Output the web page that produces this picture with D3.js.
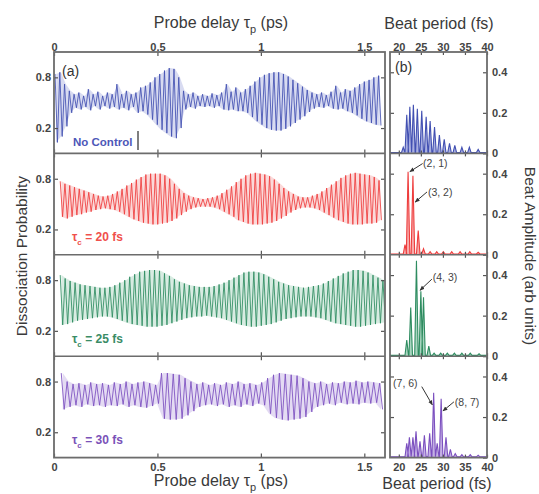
<!DOCTYPE html>
<html>
<head>
<meta charset="utf-8">
<title>Dissociation probability and beat spectra</title>
<script src="https://cdn.jsdelivr.net/npm/d3@7/dist/d3.min.js"></script>
<style>
  body { margin: 0; background: #fff; }
  svg { display: block; font-family: "Liberation Sans", Arial, sans-serif; }
  .tick text { font-size: 11px; font-weight: bold; fill: #444; }
  .tick line { stroke: #555; stroke-width: 1.2; }
</style>
</head>
<body>
<svg id="chart" width="539" height="494"></svg>
<script>
// tick values
const delayTicks = [0, 0.5, 1, 1.5];
const periodTicks = [20, 25, 30, 35, 40];
const probTicks = [0.2, 0.8];
const ampTicks = [0, 0.2, 0.4];

const panelNames = ["No Control", "20", "25", "30"];

// time of first crest and one beat cycle (ps)
const sampleStart = [0.005, 0.03, 0.03, 0.035];
const sampleStep = [0.023, 0.023, 0.024, 0.0285];

// crest / trough of each beat cycle, panel (a)
const noCtrlHi = [
  0.84, 0.86, 0.72, 0.64, 0.60, 0.62, 0.58, 0.66, 0.60, 0.63,
  0.58, 0.62, 0.60, 0.72, 0.60, 0.64, 0.60, 0.62, 0.68, 0.70,
  0.74, 0.80, 0.84, 0.88, 0.91, 0.90, 0.80, 0.64, 0.60, 0.62,
  0.58, 0.60, 0.58, 0.61, 0.59, 0.62, 0.72, 0.63, 0.68, 0.62,
  0.66, 0.70, 0.75, 0.80, 0.83, 0.85, 0.86, 0.86, 0.84, 0.81,
  0.77, 0.73, 0.69, 0.65, 0.62, 0.60, 0.62, 0.59, 0.63, 0.70,
  0.62, 0.66, 0.64, 0.68, 0.72, 0.75, 0.77, 0.80, 0.82];
const noCtrlLo = [
  0.03, 0.10, 0.22, 0.38, 0.44, 0.42, 0.45, 0.41, 0.46, 0.42,
  0.46, 0.43, 0.45, 0.42, 0.44, 0.41, 0.45, 0.38, 0.40, 0.36,
  0.30, 0.24, 0.18, 0.14, 0.10, 0.08, 0.20, 0.42, 0.45, 0.43,
  0.46, 0.45, 0.46, 0.44, 0.46, 0.42, 0.41, 0.42, 0.40, 0.40,
  0.38, 0.33, 0.28, 0.24, 0.20, 0.18, 0.17, 0.17, 0.19, 0.22,
  0.26, 0.30, 0.34, 0.39, 0.43, 0.45, 0.44, 0.46, 0.43, 0.42,
  0.43, 0.40, 0.38, 0.35, 0.31, 0.28, 0.26, 0.24, 0.23];

const tc20Hi = [
  0.77, 0.74, 0.72, 0.70, 0.68, 0.66, 0.64, 0.62, 0.60, 0.59,
  0.60, 0.62, 0.65, 0.68, 0.72, 0.75, 0.79, 0.82, 0.85, 0.86,
  0.86, 0.86, 0.84, 0.80, 0.74, 0.68, 0.63, 0.60, 0.58, 0.57,
  0.56, 0.57, 0.58, 0.60, 0.63, 0.67, 0.71, 0.76, 0.80, 0.84,
  0.86, 0.87, 0.86, 0.85, 0.83, 0.79, 0.74, 0.69, 0.65, 0.62,
  0.59, 0.58, 0.58, 0.60, 0.62, 0.65, 0.69, 0.73, 0.77, 0.81,
  0.84, 0.86, 0.87, 0.86, 0.85, 0.84, 0.82, 0.78];
const tc20Lo = [
  0.35, 0.33, 0.35, 0.37, 0.38, 0.40, 0.41, 0.43, 0.44, 0.45,
  0.44, 0.43, 0.41, 0.38, 0.35, 0.32, 0.30, 0.28, 0.27, 0.26,
  0.26, 0.27, 0.28, 0.30, 0.33, 0.37, 0.41, 0.44, 0.46, 0.47,
  0.47, 0.47, 0.46, 0.44, 0.41, 0.38, 0.35, 0.31, 0.29, 0.27,
  0.26, 0.26, 0.26, 0.27, 0.28, 0.30, 0.33, 0.36, 0.40, 0.43,
  0.45, 0.46, 0.46, 0.45, 0.43, 0.40, 0.37, 0.34, 0.31, 0.29,
  0.27, 0.26, 0.26, 0.26, 0.27, 0.27, 0.28, 0.31];

const tc25Hi = [
  0.86, 0.82, 0.79, 0.77, 0.75, 0.74, 0.73, 0.72, 0.71, 0.71,
  0.72, 0.74, 0.77, 0.80, 0.84, 0.87, 0.90, 0.91, 0.92, 0.92,
  0.91, 0.88, 0.85, 0.81, 0.78, 0.76, 0.74, 0.73, 0.72, 0.72,
  0.72, 0.73, 0.75, 0.77, 0.80, 0.83, 0.86, 0.89, 0.90, 0.90,
  0.89, 0.87, 0.84, 0.81, 0.78, 0.76, 0.74, 0.73, 0.72, 0.71,
  0.72, 0.73, 0.74, 0.76, 0.79, 0.82, 0.85, 0.88, 0.90, 0.92,
  0.92, 0.91, 0.89, 0.86, 0.83, 0.80];
const tc25Lo = [
  0.27, 0.28, 0.30, 0.32, 0.33, 0.34, 0.35, 0.36, 0.37, 0.37,
  0.36, 0.34, 0.32, 0.30, 0.28, 0.27, 0.26, 0.25, 0.25, 0.25,
  0.26, 0.27, 0.29, 0.31, 0.33, 0.35, 0.36, 0.37, 0.37, 0.38,
  0.37, 0.36, 0.35, 0.33, 0.31, 0.29, 0.27, 0.26, 0.25, 0.25,
  0.26, 0.27, 0.28, 0.30, 0.32, 0.34, 0.35, 0.36, 0.37, 0.37,
  0.37, 0.36, 0.35, 0.33, 0.31, 0.29, 0.28, 0.27, 0.26, 0.25,
  0.25, 0.26, 0.27, 0.28, 0.29, 0.30];

const tc30Hi = [
  0.90, 0.80, 0.77, 0.78, 0.76, 0.79, 0.77, 0.78, 0.76, 0.79,
  0.77, 0.80, 0.77, 0.79, 0.80, 0.78, 0.76, 0.90, 0.90, 0.89,
  0.88, 0.84, 0.80, 0.77, 0.79, 0.76, 0.78, 0.76, 0.79, 0.77,
  0.80, 0.77, 0.78, 0.76, 0.79, 0.84, 0.88, 0.90, 0.89, 0.88,
  0.87, 0.84, 0.80, 0.78, 0.80, 0.77, 0.79, 0.78, 0.80, 0.79,
  0.81, 0.79, 0.80, 0.79, 0.78];
const tc30Lo = [
  0.47, 0.50, 0.52, 0.50, 0.53, 0.51, 0.52, 0.50, 0.52, 0.51,
  0.53, 0.50, 0.52, 0.50, 0.49, 0.51, 0.54, 0.36, 0.35, 0.35,
  0.36, 0.40, 0.45, 0.50, 0.52, 0.53, 0.51, 0.53, 0.50, 0.52,
  0.50, 0.53, 0.51, 0.54, 0.52, 0.42, 0.37, 0.35, 0.34, 0.35,
  0.36, 0.38, 0.44, 0.50, 0.52, 0.54, 0.52, 0.55, 0.53, 0.54,
  0.53, 0.55, 0.54, 0.55, 0.47];

// beat spectra, panel (b): peak period (fs) and amplitude
const noCtrlPeriod = [21.0, 21.8, 22.5, 23.3, 24.2, 25.2, 26.2, 27.1, 28.1, 29.2, 30.3, 31.5, 32.7, 34.3, 36.0, 38.0];
const noCtrlAmp = [0.03, 0.19, 0.23, 0.24, 0.22, 0.21, 0.18, 0.16, 0.13, 0.09, 0.07, 0.05, 0.04, 0.03, 0.03, 0.02];
const tc20Period = [21.4, 22.1, 23.2, 24.4, 25.6, 27.1, 28.6, 30.1, 32.0, 33.9, 36.1, 38.0];
const tc20Amp = [0.05, 0.41, 0.39, 0.12, 0.03, 0.015, 0.015, 0.015, 0.015, 0.015, 0.015, 0.012];
const tc25Period = [21.8, 22.7, 24.0, 25.0, 25.6, 26.8, 28.0, 29.5, 31.0, 32.6, 34.3, 36.2, 38.2];
const tc25Amp = [0.08, 0.24, 0.47, 0.32, 0.29, 0.05, 0.015, 0.015, 0.015, 0.015, 0.015, 0.015, 0.012];
const tc30Period = [21.8, 22.4, 23.2, 23.9, 24.8, 25.8, 27.0, 27.9, 28.7, 29.6, 30.7, 31.7, 32.8, 34.3, 36.2, 38.0];
const tc30Amp = [0.07, 0.10, 0.10, 0.13, 0.08, 0.11, 0.12, 0.32, 0.07, 0.29, 0.10, 0.04, 0.02, 0.015, 0.015, 0.012];

const series = [
  { hi: noCtrlHi, lo: noCtrlLo, period: noCtrlPeriod, amp: noCtrlAmp },
  { hi: tc20Hi, lo: tc20Lo, period: tc20Period, amp: tc20Amp },
  { hi: tc25Hi, lo: tc25Lo, period: tc25Period, amp: tc25Amp },
  { hi: tc30Hi, lo: tc30Lo, period: tc30Period, amp: tc30Amp },
];
const colors = ["#4250b2", "#ee3d3d", "#2e8c60", "#7b4fbf"];
const lightColors = ["#a9afe0", "#f7abab", "#a8d5bf", "#c4b0e4"];
const textColors = ["#4d57b8", "#f0504c", "#3a8c66", "#7a52b8"];

// layout
const panelTop = 52, panelH = 101.4, nPanels = 4;
const leftX = [54, 385], rightX = [390, 487];
const frameColor = "#6c6c6c";

const svg = d3.select("#chart");

const x = d3.scaleLinear().domain([0, 1.6]).range(leftX);
const xb = d3.scaleLinear().domain([18, 40]).range(rightX);

const defs = svg.append("defs");
defs.append("clipPath").attr("id", "clipA")
  .append("rect").attr("x", leftX[0]).attr("y", panelTop)
  .attr("width", leftX[1] - leftX[0]).attr("height", panelH * nPanels);

const marker = defs.append("marker")
  .attr("id", "arrow").attr("viewBox", "0 0 10 10")
  .attr("refX", 9).attr("refY", 5)
  .attr("markerWidth", 5).attr("markerHeight", 5)
  .attr("orient", "auto");
marker.append("path").attr("d", "M0,1 L10,5 L0,9 Z").attr("fill", "#333");

const fmtTick = (d) => (d === 0 ? "0" : d3.format("~g")(d));

series.forEach((s, i) => {
  const y0 = panelTop + i * panelH, y1 = y0 + panelH;
  const y = d3.scaleLinear().domain([-0.1, 1.1]).range([y1, y0]);
  const ya = d3.scaleLinear().domain([0, 0.5]).range([y1, y0]);

  // time trace: crest then trough for each cycle
  const t0 = sampleStart[i], dt = sampleStep[i];
  const pts = [];
  s.hi.forEach((h, k) => {
    pts.push([t0 + k * dt, h]);
    pts.push([t0 + (k + 0.5) * dt, s.lo[k]]);
  });

  // pale band between crests and troughs
  const band = d3.area()
    .x((d, k) => x(t0 + (k + 0.25) * dt))
    .y0((d, k) => y(s.lo[k]))
    .y1((d) => y(d));
  svg.append("path")
    .attr("clip-path", "url(#clipA)")
    .attr("d", band(s.hi))
    .attr("fill", lightColors[i])
    .attr("fill-opacity", 0.45);

  const line = d3.line().x((d) => x(d[0])).y((d) => y(d[1]));
  svg.append("path")
    .attr("clip-path", "url(#clipA)")
    .attr("d", line(pts))
    .attr("fill", "none")
    .attr("stroke", colors[i])
    .attr("stroke-width", 1)
    .attr("stroke-opacity", 0.85);

  // beat spectrum: narrow peaks on a baseline
  const w = 0.4;
  const spec = [[18, 0.004]];
  s.period.forEach((p, k) => {
    spec.push([p - w, 0.004], [p, s.amp[k]], [p + w, 0.004]);
  });
  spec.push([40, 0.004]);
  const area = d3.area().x((d) => xb(d[0])).y0(ya(0)).y1((d) => ya(d[1]));
  svg.append("path").attr("d", area(spec)).attr("fill", lightColors[i]);
  svg.append("path")
    .attr("d", d3.line().x((d) => xb(d[0])).y((d) => ya(d[1]))(spec))
    .attr("fill", "none").attr("stroke", colors[i]).attr("stroke-width", 1.1);

  // axes, ticks pointing inward
  const clean = (g) => g.select(".domain").remove();
  svg.append("g").attr("transform", `translate(${leftX[0]},0)`)
    .call(d3.axisLeft(y).tickValues(probTicks).tickSize(-4).tickPadding(3).tickFormat(d3.format(".1f")))
    .call(clean);
  svg.append("g").attr("transform", `translate(${leftX[1]},0)`)
    .call(d3.axisRight(y).tickValues(probTicks).tickSize(-4).tickFormat(""))
    .call(clean);
  svg.append("g").attr("transform", `translate(${rightX[0]},0)`)
    .call(d3.axisLeft(ya).tickValues([0.2, 0.4]).tickSize(-4).tickFormat(""))
    .call(clean);
  svg.append("g").attr("transform", `translate(${rightX[1]},0)`)
    .call(d3.axisRight(ya).tickValues(ampTicks).tickSize(-4).tickPadding(5).tickFormat(fmtTick))
    .call(clean);

  svg.append("g").attr("transform", `translate(0,${y0})`)
    .call(d3.axisTop(x).tickValues(delayTicks).tickSize(-4).tickPadding(1)
      .tickFormat(i === 0 ? fmtTick : ""))
    .call(clean);
  svg.append("g").attr("transform", `translate(0,${y1})`)
    .call(d3.axisBottom(x).tickValues(delayTicks).tickSize(-4).tickPadding(6)
      .tickFormat(i === nPanels - 1 ? fmtTick : ""))
    .call(clean);
  svg.append("g").attr("transform", `translate(0,${y0})`)
    .call(d3.axisTop(xb).tickValues(periodTicks).tickSize(-3).tickPadding(1)
      .tickFormat(i === 0 ? fmtTick : ""))
    .call(clean);
  svg.append("g").attr("transform", `translate(0,${y1})`)
    .call(d3.axisBottom(xb).tickValues(periodTicks).tickSize(-3).tickPadding(6)
      .tickFormat(i === nPanels - 1 ? fmtTick : ""))
    .call(clean);

  // dividers
  if (i > 0) {
    [leftX, rightX].forEach((r) => {
      svg.append("line").attr("x1", r[0]).attr("x2", r[1])
        .attr("y1", y0).attr("y2", y0)
        .attr("stroke", frameColor).attr("stroke-width", 1.6);
    });
  }

  // panel caption
  const cap = svg.append("text")
    .attr("x", 72).attr("y", y0 + (i === 0 ? 94 : 88))
    .attr("fill", textColors[i]).attr("font-size", 12).attr("font-weight", "bold");
  if (i === 0) {
    cap.attr("x", 73).attr("font-size", 11.5).text(panelNames[i]);
    svg.append("line").attr("x1", 138).attr("x2", 138)
      .attr("y1", y0 + 79).attr("y2", y0 + 98)
      .attr("stroke", "#555").attr("stroke-width", 1.5);
  } else {
    cap.append("tspan").text("τ");
    cap.append("tspan").attr("font-size", 8).attr("dy", 4).text("c");
    cap.append("tspan").attr("dy", -4).text(` = ${panelNames[i]} fs`);
  }
});

// frames
[leftX, rightX].forEach((r) => {
  svg.append("rect").attr("x", r[0]).attr("y", panelTop)
    .attr("width", r[1] - r[0]).attr("height", panelH * nPanels)
    .attr("fill", "none").attr("stroke", frameColor).attr("stroke-width", 1.8);
});

svg.selectAll(".tick text").attr("font-size", null);

// peak annotations in spectrum coordinates
const notes = [
  { panel: 1, text: "(2, 1)", tx: 25.5, ty: 0.435, ax: 25.4, ay: 0.45, bx: 22.5, by: 0.41 },
  { panel: 1, text: "(3, 2)", tx: 26.6, ty: 0.29, ax: 26.4, ay: 0.31, bx: 23.7, by: 0.26 },
  { panel: 2, text: "(4, 3)", tx: 27.7, ty: 0.37, ax: 27.5, ay: 0.38, bx: 24.8, by: 0.325 },
  { panel: 3, text: "(7, 6)", tx: 18.7, ty: 0.35, ax: 25.2, ay: 0.35, bx: 27.6, by: 0.26 },
  { panel: 3, text: "(8, 7)", tx: 32.7, ty: 0.255, ax: 32.5, ay: 0.275, bx: 30.0, by: 0.23 },
];
notes.forEach((n) => {
  const y1 = panelTop + (n.panel + 1) * panelH;
  const ya = d3.scaleLinear().domain([0, 0.5]).range([y1, y1 - panelH]);
  svg.append("text").attr("x", xb(n.tx)).attr("y", ya(n.ty))
    .attr("font-size", 10.5).attr("fill", "#444").text(n.text);
  svg.append("line")
    .attr("x1", xb(n.ax)).attr("y1", ya(n.ay))
    .attr("x2", xb(n.bx)).attr("y2", ya(n.by))
    .attr("stroke", "#333").attr("stroke-width", 1)
    .attr("marker-end", "url(#arrow)");
});

// panel letters
svg.append("text").attr("x", 62).attr("y", 76).attr("font-size", 14).attr("fill", "#333").text("(a)");
svg.append("text").attr("x", 395).attr("y", 72).attr("font-size", 14).attr("fill", "#333").text("(b)");

// axis titles
function delayTitle(yPos) {
  const t = svg.append("text").attr("x", 221).attr("y", yPos)
    .attr("text-anchor", "middle").attr("font-size", 16).attr("fill", "#3a3a3a");
  t.append("tspan").text("Probe delay τ");
  t.append("tspan").attr("font-size", 11).attr("dy", 5).text("p");
  t.append("tspan").attr("dy", -5).text(" (ps)");
}
delayTitle(28);
delayTitle(486);

svg.append("text").attr("x", 439).attr("y", 29).attr("text-anchor", "middle")
  .attr("font-size", 16).attr("fill", "#3a3a3a").text("Beat period (fs)");
svg.append("text").attr("x", 437).attr("y", 489).attr("text-anchor", "middle")
  .attr("font-size", 16).attr("fill", "#3a3a3a").text("Beat period (fs)");

svg.append("text").attr("transform", "translate(27,256) rotate(-90)")
  .attr("text-anchor", "middle").attr("font-size", 15.5).attr("fill", "#3a3a3a")
  .text("Dissociation Probability");
svg.append("text").attr("transform", "translate(525,256) rotate(90)")
  .attr("text-anchor", "middle").attr("font-size", 15.5).attr("fill", "#3a3a3a")
  .text("Beat Amplitude (arb units)");
</script>
</body>
</html>
